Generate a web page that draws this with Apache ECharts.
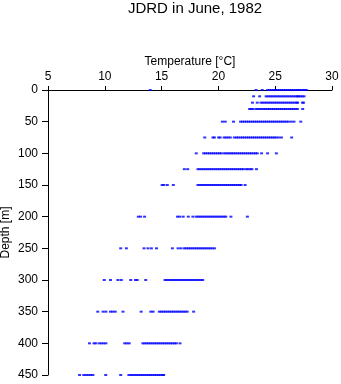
<!DOCTYPE html>
<html>
<head>
<meta charset="utf-8">
<script src="https://cdn.jsdelivr.net/npm/echarts@6/dist/echarts.min.js"></script>
<style>
html,body{margin:0;padding:0;background:#fff;}
#c{width:341px;height:384px;}
</style>
</head>
<body>
<div id="c"></div>
<script>
// Depth levels [m]
const depths = [0, 10, 20, 30, 50, 75, 100, 125, 150, 200, 250, 300, 350, 400, 450];
// Temperatures [°C] observed at each depth
const t0 = [14.0, 23.31, 23.86, 24.33, 24.5, 24.68, 24.85, 25.03, 25.2, 25.38, 25.55, 25.73, 25.9, 26.08, 26.25, 26.43, 26.6, 26.78, 26.97, 27.1, 27.28, 27.45, 27.6, 27.74];
const t10 = [23.1, 23.63, 24.2, 24.37, 24.55, 24.72, 24.9, 25.07, 25.25, 25.42, 25.6, 25.77, 25.95, 26.12, 26.3, 26.47, 26.65, 26.82, 26.97, 27.05, 27.22, 27.38, 27.54];
const t20 = [23.0, 23.42, 23.75, 23.92, 24.1, 24.27, 24.45, 24.62, 24.8, 24.97, 25.15, 25.32, 25.5, 25.67, 25.85, 26.02, 26.2, 26.37, 26.55, 26.72, 26.9, 26.97, 27.4, 27.5];
const t30 = [22.75, 22.9, 23.05, 23.32, 23.48, 23.65, 23.82, 24.0, 24.17, 24.34, 24.5, 24.67, 24.85, 25.02, 25.2, 25.37, 25.55, 25.72, 25.9, 26.07, 26.25, 26.42, 26.6, 26.77, 26.95, 27.42];
const t50 = [20.35, 20.6, 21.33, 21.95, 22.12, 22.3, 22.47, 22.65, 22.82, 23.0, 23.17, 23.35, 23.52, 23.7, 23.87, 24.05, 24.22, 24.4, 24.57, 24.75, 24.92, 25.1, 25.27, 25.45, 25.62, 25.8, 25.97, 26.15, 26.4, 26.65, 27.25];
const t75 = [18.8, 19.52, 19.65, 20.02, 20.15, 20.5, 20.68, 20.86, 21.05, 21.4, 21.6, 21.75, 21.95, 22.12, 22.3, 22.47, 22.65, 22.82, 23.0, 23.17, 23.35, 23.52, 23.7, 23.87, 24.05, 24.22, 24.4, 24.57, 24.75, 24.92, 25.08, 25.3, 25.55, 26.45];
const t100 = [18.05, 18.7, 18.87, 19.05, 19.22, 19.4, 19.57, 19.75, 19.92, 20.1, 20.25, 20.5, 20.67, 20.85, 21.02, 21.18, 21.35, 21.52, 21.7, 21.87, 22.05, 22.22, 22.4, 22.57, 22.75, 22.92, 23.1, 23.27, 23.42, 23.8, 24.33, 25.1];
const t125 = [17.0, 17.3, 18.2, 18.37, 18.55, 18.72, 18.9, 19.07, 19.25, 19.42, 19.6, 19.77, 19.95, 20.12, 20.3, 20.47, 20.65, 20.82, 21.0, 21.17, 21.35, 21.52, 21.7, 21.87, 22.05, 22.2, 22.45, 22.6, 22.8, 22.95, 23.35];
const t150 = [15.05, 15.2, 15.5, 16.03, 18.2, 18.37, 18.55, 18.72, 18.9, 19.07, 19.25, 19.42, 19.6, 19.77, 19.95, 20.12, 20.3, 20.47, 20.65, 20.82, 21.0, 21.17, 21.35, 21.52, 21.7, 21.87, 22.0, 22.35];
const t200 = [12.95, 13.15, 13.5, 16.4, 16.6, 16.9, 17.35, 17.75, 18.05, 18.22, 18.4, 18.57, 18.75, 18.92, 19.1, 19.27, 19.45, 19.62, 19.8, 19.97, 20.15, 20.32, 20.5, 20.65, 21.1, 22.55];
const t250 = [11.4, 11.9, 13.45, 13.8, 14.1, 14.55, 15.95, 16.45, 16.7, 17.0, 17.17, 17.35, 17.52, 17.7, 17.87, 18.05, 18.22, 18.4, 18.57, 18.75, 18.92, 19.1, 19.27, 19.45, 19.65];
const t300 = [9.95, 10.5, 11.15, 11.45, 12.28, 12.7, 12.85, 13.6, 15.3, 15.47, 15.65, 15.82, 16.0, 16.17, 16.35, 16.52, 16.7, 16.87, 17.05, 17.22, 17.4, 17.57, 17.75, 17.92, 18.1, 18.27, 18.45, 18.62];
const t350 = [9.38, 9.85, 10.1, 10.5, 10.7, 10.92, 11.6, 13.2, 14.05, 14.25, 14.8, 14.97, 15.15, 15.32, 15.5, 15.67, 15.85, 16.02, 16.2, 16.37, 16.55, 16.72, 16.9, 17.07, 17.25, 17.82];
const t400 = [8.65, 9.05, 9.2, 9.5, 9.7, 9.9, 10.1, 11.75, 11.95, 12.15, 13.35, 13.52, 13.7, 13.87, 14.05, 14.22, 14.4, 14.57, 14.75, 14.92, 15.1, 15.27, 15.45, 15.62, 15.8, 15.97, 16.15, 16.3, 16.62];
const t450 = [7.78, 8.15, 8.35, 8.55, 8.75, 8.95, 10.08, 11.4, 12.12, 12.3, 12.47, 12.65, 12.82, 13.0, 13.17, 13.35, 13.52, 13.7, 13.87, 14.05, 14.22, 14.4, 14.57, 14.75, 14.92, 15.1, 15.18];
const temps = [t0, t10, t20, t30, t50, t75, t100, t125, t150, t200, t250, t300, t350, t400, t450];
const xTicks = [5, 10, 15, 20, 25, 30];
const yTicks = [0, 50, 100, 150, 200, 250, 300, 350, 400, 450];

const points = [];
depths.forEach((d, i) => temps[i].forEach(t => points.push([t, d])));

const font = 'Liberation Sans, Arial, Helvetica, sans-serif';
const chart = echarts.init(document.getElementById('c'), null, {renderer: 'canvas'});
chart.setOption({
  animation: false,
  backgroundColor: '#ffffff',
  title: {
    text: 'JDRD in June, 1982',
    left: 190, top: -4, textAlign: 'center',
    textStyle: {fontFamily: font, fontSize: 15, fontWeight: 'normal', color: '#000'}
  },
  grid: {left: 48, right: 9, top: 90, bottom: 9, containLabel: false, outerBoundsMode: 'none'},
  xAxis: {
    type: 'value', position: 'top',
    min: xTicks[0], max: xTicks[xTicks.length - 1], interval: 5,
    name: 'Temperature [°C]', nameLocation: 'middle', nameGap: 22, nameMoveOverlap: false,
    nameTextStyle: {fontFamily: font, fontSize: 12, color: '#000'},
    axisLine: {show: true, onZero: false, lineStyle: {color: '#000', width: 1}},
    axisTick: {show: true, inside: false, length: 4, lineStyle: {color: '#000'}},
    axisLabel: {fontFamily: font, fontSize: 12, color: '#000', margin: 7},
    splitLine: {show: false}
  },
  yAxis: {
    type: 'value', inverse: true,
    min: yTicks[0], max: yTicks[yTicks.length - 1], interval: 50,
    name: 'Depth [m]', nameLocation: 'middle', nameGap: 36, nameRotate: 90, nameMoveOverlap: false,
    nameTextStyle: {fontFamily: font, fontSize: 12, color: '#000'},
    axisLine: {show: true, onZero: false, lineStyle: {color: '#000', width: 1}},
    axisTick: {show: true, inside: false, length: 6, lineStyle: {color: '#000'}},
    axisLabel: {fontFamily: font, fontSize: 12, color: '#000', margin: 10},
    splitLine: {show: false}
  },
  series: [{
    type: 'scatter',
    data: points,
    symbol: 'rect',
    symbolSize: [3, 2],
    clip: false,
    itemStyle: {color: '#0000ff'}
  }]
});
</script>
</body>
</html>
